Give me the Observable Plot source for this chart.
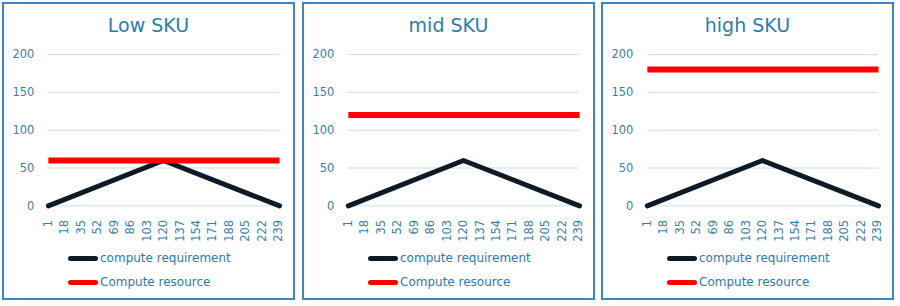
<!DOCTYPE html>
<html>
<head>
<meta charset="utf-8">
<script src="https://cdn.jsdelivr.net/npm/d3@7"></script>
<script src="https://cdn.jsdelivr.net/npm/@observablehq/plot@0.6"></script>
<style>
  body { margin: 0; background: #fff; font-family: "DejaVu Sans", sans-serif; }
  #wrap { position: relative; width: 900px; height: 306px; }
  .panel { position: absolute; top: 2px; width: 293px; height: 298px; box-sizing: border-box;
           border: 2px solid #3d85c6; background: #fff; }
  .title { position: absolute; left: 0; right: 0; top: 9px; text-align: center;
           font-size: 19px; line-height: 24px; color: #2e7cae; }
  .leg { position: absolute; left: 64px; height: 16px; display: flex; align-items: center;
         font-size: 12px; color: #2f7aab; }
  .sw { display: inline-block; width: 30px; height: 5px; border-radius: 3px; margin-right: 2px; }
</style>
</head>
<body>
<div id="wrap"></div>
<script>
const panelTitles = ["Low SKU", "mid SKU", "high SKU"];
const panelLefts = [2, 302, 601];
const resourceValues = [60, 120, 180];
const resourceX = [1, 240];
const requirementX = [1, 120, 240];
const requirementY = [0, 60, 0];
const xTicks = [1, 18, 35, 52, 69, 86, 103, 120, 137, 154, 171, 188, 205, 222, 239];
const yTicks = [0, 50, 100, 150, 200];
const seriesNames = ["compute requirement", "Compute resource"];
const seriesColors = ["#0e1a26", "#ff0000"];

const wrap = document.getElementById("wrap");

panelTitles.forEach((t, i) => {
  const panel = document.createElement("div");
  panel.className = "panel";
  panel.style.left = panelLefts[i] + "px";

  const title = document.createElement("div");
  title.className = "title";
  title.textContent = t;
  panel.appendChild(title);

  const req = requirementX.map((x, k) => ({x, y: requirementY[k]}));
  const res = resourceX.map(x => ({x, y: resourceValues[i]}));

  const chart = Plot.plot({
    width: 290,
    height: 205,
    marginLeft: 44,
    marginRight: 14,
    marginTop: 14,
    marginBottom: 39,
    style: {fontFamily: "DejaVu Sans", fontSize: "11.5px", color: "#3a7eab", background: "transparent"},
    x: {domain: [1, 240], label: null},
    y: {domain: [0, 200], label: null},
    marks: [
      Plot.gridY(yTicks, {stroke: "#c5dff0", strokeOpacity: 1, strokeWidth: 1}),
      Plot.axisY(yTicks, {tickSize: 0, tickPadding: 14, label: null}),
      Plot.axisX(xTicks, {tickSize: 0, tickPadding: 14, tickRotate: -90, label: null}),
      Plot.line(req, {x: "x", y: "y", stroke: seriesColors[0], strokeWidth: 5, strokeLinecap: "round", strokeLinejoin: "round"}),
      Plot.line(res, {x: "x", y: "y", stroke: seriesColors[1], strokeWidth: 6, strokeLinecap: "butt"})
    ]
  });
  chart.style.position = "absolute";
  chart.style.left = "0px";
  chart.style.top = "36px";
  panel.appendChild(chart);

  seriesNames.forEach((n, k) => {
    const leg = document.createElement("div");
    leg.className = "leg";
    leg.style.top = (246 + k * 24) + "px";
    const sw = document.createElement("span");
    sw.className = "sw";
    sw.style.background = seriesColors[k];
    leg.appendChild(sw);
    const tx = document.createElement("span");
    tx.textContent = n;
    leg.appendChild(tx);
    panel.appendChild(leg);
  });

  wrap.appendChild(panel);
});
</script>
</body>
</html>
